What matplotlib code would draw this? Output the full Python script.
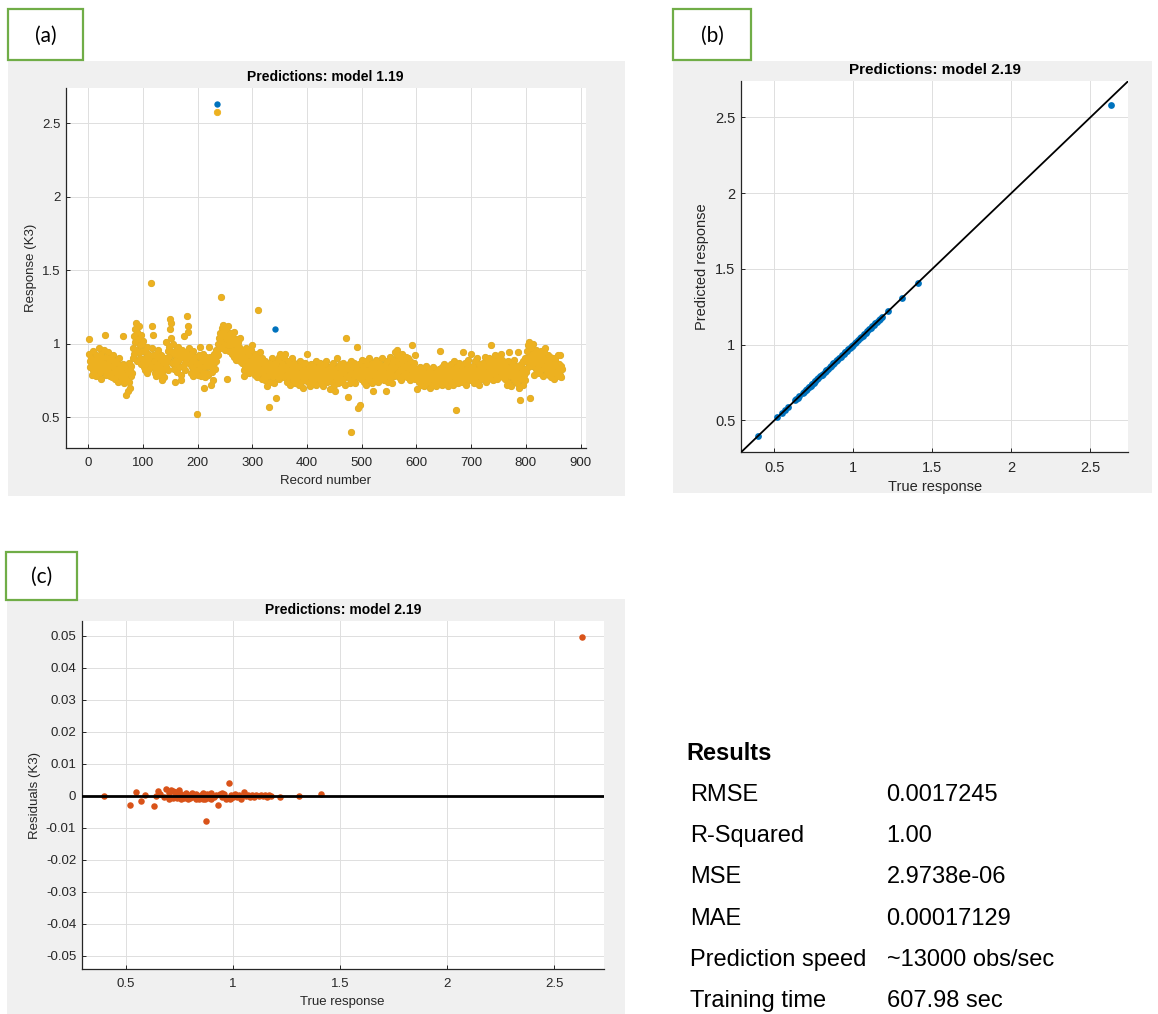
import numpy as np
import matplotlib
matplotlib.use('Agg')
from matplotlib import pyplot as plt
from matplotlib import font_manager
from matplotlib.patches import Rectangle

# ---- panel (a): true response per record (model 1.19 plot) ----
true_k3 = [
    0.93, 1.03, 0.88, 0.84, 0.90, 0.79, 0.86, 0.82, 0.95, 0.87, 0.81, 0.89, 0.84, 0.92, 0.78, 0.86, 0.91, 0.83, 0.97, 0.85,
    0.88, 0.80, 0.93, 0.76, 0.85, 0.90, 0.82, 0.96, 0.87, 1.06, 0.84, 0.79, 0.91, 0.86, 0.81, 0.94, 0.83, 0.88, 0.78, 0.90,
    0.85, 0.80, 0.89, 0.77, 0.84, 0.92, 0.81, 0.86, 0.76, 0.88, 0.83, 0.79, 0.87, 0.82, 0.74, 0.90, 0.80, 0.85, 0.77, 0.83,
    0.81, 0.76, 0.86, 1.05, 0.79, 0.73, 0.84, 0.77, 0.65, 0.82, 0.75, 0.68, 0.80, 0.87, 0.74, 0.83, 0.70, 0.78, 0.85, 0.80,
    0.90, 0.97, 1.05, 0.93, 1.10, 1.01, 1.14, 0.96, 1.08, 0.88, 1.03, 0.94, 1.12, 0.99, 0.90, 1.06, 0.86, 1.00, 0.95, 1.02,
    0.89, 0.84, 0.95, 0.82, 0.91, 0.86, 0.98, 0.80, 0.88, 0.93, 0.83, 0.90, 0.86, 1.41, 0.85, 0.97, 1.12, 1.06, 0.92, 0.84,
    0.88, 0.80, 0.93, 0.78, 0.86, 0.91, 0.82, 0.96, 0.84, 0.79, 0.89, 0.85, 0.92, 0.81, 0.75, 0.87, 0.83, 0.90, 0.77, 0.86,
    0.90, 0.84, 1.01, 0.88, 0.95, 0.82, 0.98, 0.91, 1.17, 1.10, 1.04, 1.14, 0.94, 0.87, 1.00, 0.83, 0.93, 0.74, 0.89, 0.96,
    0.86, 0.92, 0.81, 0.98, 0.88, 0.84, 0.95, 0.90, 0.79, 0.75, 0.93, 0.96, 0.85, 0.91, 1.05, 0.87, 0.82, 0.94, 0.89, 0.92,
    1.19, 1.08, 1.12, 0.97, 0.91, 0.86, 0.93, 0.80, 0.89, 0.84, 0.95, 0.78, 0.88, 0.83, 0.91, 0.80, 0.86, 0.52, 0.82, 0.79,
    0.87, 0.92, 0.83, 0.98, 0.85, 0.90, 0.78, 0.88, 0.81, 0.93, 0.70, 0.84, 0.89, 0.77, 0.86, 0.91, 0.80, 0.85, 0.79, 0.88,
    0.98, 0.86, 0.91, 0.72, 0.84, 0.89, 0.81, 0.75, 0.87, 0.93, 0.83, 0.90, 0.96, 0.88, 2.63, 0.94, 1.00, 0.92, 1.04, 0.97,
    1.07, 1.32, 1.02, 1.11, 0.98, 1.05, 1.13, 1.00, 1.08, 0.96, 1.03, 1.10, 0.76, 1.06, 0.99, 1.12, 1.01, 0.95, 1.07, 1.04,
    0.99, 1.05, 0.93, 1.02, 0.96, 1.08, 0.91, 1.00, 0.94, 1.03, 0.89, 0.97, 1.01, 0.92, 0.98, 0.95, 1.04, 0.88, 0.96, 0.90,
    0.93, 0.87, 0.95, 0.82, 0.78, 0.91, 0.85, 0.97, 0.89, 0.83, 0.94, 0.86, 0.80, 0.92, 0.88, 0.84, 0.96, 0.81, 0.99, 0.87,
    0.90, 0.84, 0.88, 0.79, 0.93, 0.86, 0.82, 0.91, 0.77, 1.23, 0.85, 0.89, 0.80, 0.94, 0.83, 0.87, 0.76, 0.90, 0.81, 0.86,
    0.84, 0.79, 0.88, 0.75, 0.82, 0.71, 0.86, 0.78, 0.83, 0.57, 0.80, 0.87, 0.74, 0.85, 0.79, 0.90, 0.77, 0.82, 0.73, 0.84,
    1.10, 0.81, 0.63, 0.86, 0.78, 0.89, 0.83, 0.76, 0.91, 0.93, 0.80, 0.85, 0.92, 0.79, 0.87, 0.82, 0.77, 0.90, 0.84, 0.93,
    0.79, 0.85, 0.74, 0.82, 0.88, 0.77, 0.81, 0.86, 0.72, 0.83, 0.78, 0.90, 0.80, 0.75, 0.84, 0.79, 0.87, 0.73, 0.82, 0.78,
    0.81, 0.76, 0.85, 0.79, 0.72, 0.84, 0.80, 0.88, 0.74, 0.82, 0.77, 0.86, 0.70, 0.83, 0.79, 0.75, 0.87, 0.81, 0.78, 0.93,
    0.80, 0.74, 0.84, 0.78, 0.71, 0.82, 0.86, 0.76, 0.80, 0.73, 0.85, 0.79, 0.75, 0.83, 0.77, 0.88, 0.72, 0.81, 0.78, 0.84,
    0.76, 0.82, 0.79, 0.87, 0.73, 0.80, 0.84, 0.77, 0.71, 0.83, 0.78, 0.86, 0.75, 0.81, 0.88, 0.74, 0.79, 0.83, 0.76, 0.80,
    0.82, 0.69, 0.85, 0.77, 0.80, 0.74, 0.87, 0.79, 0.72, 0.83, 0.68, 0.81, 0.76, 0.90, 0.78, 0.73, 0.84, 0.80, 0.75, 0.86,
    0.79, 0.83, 0.74, 0.81, 0.87, 0.76, 0.80, 0.85, 0.72, 0.82, 0.78, 1.04, 0.84, 0.77, 0.64, 0.86, 0.79, 0.73, 0.82, 0.88,
    0.40, 0.80, 0.75, 0.84, 0.78, 0.87, 0.81, 0.73, 0.85, 0.79, 0.83, 0.98, 0.56, 0.77, 0.86, 0.80, 0.58, 0.82, 0.76, 0.89,
    0.81, 0.77, 0.85, 0.74, 0.83, 0.79, 0.88, 0.72, 0.80, 0.86, 0.76, 0.82, 0.78, 0.90, 0.75, 0.84, 0.80, 0.73, 0.87, 0.68,
    0.83, 0.78, 0.86, 0.75, 0.81, 0.89, 0.77, 0.84, 0.80, 0.74, 0.87, 0.79, 0.82, 0.76, 0.85, 0.80, 0.90, 0.78, 0.83, 0.75,
    0.81, 0.86, 0.77, 0.84, 0.68, 0.80, 0.88, 0.74, 0.82, 0.79, 0.91, 0.76, 0.85, 0.80, 0.87, 0.73, 0.83, 0.89, 0.78, 0.94,
    0.84, 0.88, 0.79, 0.92, 0.96, 0.81, 0.86, 0.77, 0.90, 0.83, 0.75, 0.87, 0.82, 0.93, 0.79, 0.85, 0.89, 0.78, 0.84, 0.91,
    0.80, 0.86, 0.77, 0.84, 0.90, 0.79, 0.83, 0.75, 0.88, 0.82, 0.99, 0.81, 0.85, 0.78, 0.87, 0.80, 0.92, 0.76, 0.83, 0.79,
    0.69, 0.78, 0.82, 0.74, 0.80, 0.76, 0.84, 0.72, 0.79, 0.81, 0.75, 0.83, 0.77, 0.71, 0.80, 0.78, 0.85, 0.73, 0.79, 0.76,
    0.81, 0.74, 0.78, 0.70, 0.83, 0.76, 0.79, 0.72, 0.80, 0.77, 0.84, 0.73, 0.78, 0.75, 0.81, 0.71, 0.79, 0.76, 0.82, 0.74,
    0.78, 0.83, 0.95, 0.75, 0.80, 0.72, 0.84, 0.77, 0.81, 0.74, 0.86, 0.79, 0.73, 0.82, 0.76, 0.80, 0.85, 0.71, 0.78, 0.83,
    0.77, 0.81, 0.74, 0.86, 0.79, 0.72, 0.83, 0.78, 0.88, 0.75, 0.80, 0.55, 0.84, 0.77, 0.82, 0.73, 0.87, 0.79, 0.76, 0.81,
    0.85, 0.78, 0.82, 0.74, 0.94, 0.80, 0.76, 0.87, 0.79, 0.83, 0.72, 0.86, 0.81, 0.77, 0.89, 0.75, 0.82, 0.78, 0.84, 0.93,
    0.80, 0.76, 0.85, 0.79, 0.73, 0.83, 0.88, 0.77, 0.81, 0.90, 0.74, 0.82, 0.78, 0.86, 0.72, 0.80, 0.84, 0.76, 0.83, 0.79,
    0.82, 0.87, 0.77, 0.84, 0.91, 0.79, 0.85, 0.74, 0.81, 0.88, 0.76, 0.83, 0.90, 0.78, 0.86, 0.80, 0.99, 0.84, 0.75, 0.89,
    0.83, 0.87, 0.79, 0.92, 0.85, 0.81, 0.88, 0.76, 0.84, 0.90, 0.82, 0.78, 0.86, 0.93, 0.80, 0.85, 0.89, 0.77, 0.83, 0.87,
    0.81, 0.76, 0.85, 0.79, 0.72, 0.83, 0.88, 0.74, 0.80, 0.94, 0.78, 0.84, 0.71, 0.82, 0.86, 0.77, 0.80, 0.89, 0.75, 0.83,
    0.79, 0.85, 0.73, 0.81, 0.94, 0.77, 0.84, 0.70, 0.80, 0.62, 0.86, 0.76, 0.82, 0.72, 0.88, 0.79, 0.83, 0.75, 0.90, 0.81,
    0.88, 0.95, 0.84, 0.99, 1.01, 0.91, 0.86, 0.63, 0.97, 0.89, 0.93, 0.85, 1.00, 0.90, 0.79, 0.94, 0.87, 0.96, 0.83, 0.92,
    0.89, 0.84, 0.93, 0.80, 0.91, 0.86, 0.95, 0.82, 0.88, 0.92, 0.78, 0.90, 0.85, 0.94, 0.97, 0.83, 0.89, 0.81, 0.87, 0.92,
    0.84, 0.79, 0.88, 0.82, 0.91, 0.77, 0.86, 0.83, 0.90, 0.80, 0.85, 0.76, 0.89, 0.81, 0.87, 0.78, 0.84, 0.92, 0.80, 0.86,
    0.82, 0.92, 0.79, 0.85, 0.77, 0.83,
]
# records where model 1.19 prediction differs visibly from the true value
pred_changed = {235: 2.58, 341: 0.87}

# ---- panels (b) and (c): model 2.19, true response vs residual ----
true_resp = [0.40, 0.52, 0.55, 0.57, 0.59, 0.63, 0.64, 0.65, 0.66, 0.68, 0.69, 0.70, 0.71, 0.72,
             0.73, 0.74, 0.75, 0.76, 0.77, 0.78, 0.79, 0.80, 0.81, 0.82, 0.83, 0.84, 0.85, 0.86,
             0.87, 0.88, 0.89, 0.90, 0.91, 0.92, 0.93, 0.94, 0.95, 0.96, 0.97, 0.98, 0.99, 1.00,
             1.01, 1.02, 1.03, 1.04, 1.05, 1.06, 1.07, 1.08, 1.09, 1.10, 1.11, 1.12, 1.13, 1.14,
             1.15, 1.16, 1.17, 1.18, 1.22, 1.31, 1.41, 2.63,
             0.70, 0.72, 0.74, 0.76, 0.80, 0.83, 0.86, 0.873, 0.90, 0.95, 0.99, 0.985]
resid_k3 = [-0.0002, -0.0028, 0.0012, -0.0016, 0.0003, -0.0032, 0.0, 0.0014, 0.0005, -0.0004, 0.0020, 0.0008, 0.0018, -0.0006,
            0.0010, -0.0008, 0.0018, 0.0004, -0.0007, 0.0009, -0.0010, 0.0003, 0.0008, -0.0005, 0.0006, -0.0009, 0.0002, 0.0007,
            -0.0012, 0.0004, -0.0006, 0.0008, -0.0003, 0.0002, -0.0028, 0.0005, -0.0004, 0.0006, -0.0010, 0.0039, 0.0003, -0.0005,
            0.0004, -0.0003, 0.0002, -0.0010, 0.0010, -0.0002, 0.0003, -0.0004, 0.0002, -0.0003, 0.0001, -0.0002, 0.0003, -0.0001,
            0.0002, -0.0003, 0.0001, -0.0002, -0.0004, 0.0, 0.0004, 0.0496,
            -0.0010, 0.0015, 0.0012, -0.0012, -0.0008, -0.0011, -0.0010, -0.0078, -0.0009, 0.0007, -0.0008, -0.0012]

resp_ticks = [0.5, 1, 1.5, 2, 2.5]
resp_labels = ['0.5', '1', '1.5', '2', '2.5']
record_ticks = [0, 100, 200, 300, 400, 500, 600, 700, 800, 900]
resid_ticks = [-0.05, -0.04, -0.03, -0.02, -0.01, 0, 0.01, 0.02, 0.03, 0.04, 0.05]
resid_labels = ['-0.05', '-0.04', '-0.03', '-0.02', '-0.01', '0', '0.01', '0.02', '0.03', '0.04', '0.05']

results_names = ['RMSE', 'R-Squared', 'MSE', 'MAE', 'Prediction speed', 'Training time']
results_values = ['0.0017245', '1.00', '2.9738e-06', '0.00017129', '~13000 obs/sec', '607.98 sec']

BLUE = '#0072BD'
YELLOW = '#EDB120'
RED = '#D95319'
GREEN = '#70AD47'
PANEL_BG = '#F0F0F0'
INK = '#262626'

W, H = 1158, 1014
plt.rcParams['font.family'] = ['Liberation Sans', 'DejaVu Sans']


def px_rect(l, t, r, b):
    return [l / W, 1 - b / H, (r - l) / W, (b - t) / H]


def style_axes(ax, size):
    ax.set_facecolor('white')
    for side in ('top', 'right'):
        ax.spines[side].set_visible(False)
    for side in ('left', 'bottom'):
        ax.spines[side].set_color(INK)
        ax.spines[side].set_linewidth(0.9)
    ax.tick_params(direction='in', length=3, width=0.7, colors=INK, labelsize=size)
    ax.tick_params(axis='x', pad=6.5)
    ax.tick_params(axis='y', pad=4)
    ax.grid(True, color='#DEDEDE', linewidth=0.7)
    ax.set_axisbelow(True)


fig = plt.figure(figsize=(W / 100, H / 100), dpi=100)

# grey panel backgrounds (MATLAB figure colour) and green label boxes
for l, t, r, b in [(8, 61, 625, 496), (673, 61, 1152, 493), (7, 599, 625, 1014)]:
    fig.patches.append(Rectangle((l / W, 1 - b / H), (r - l) / W, (b - t) / H,
                                 transform=fig.transFigure, facecolor=PANEL_BG,
                                 edgecolor='none', zorder=-1))
for (l, t, r, b), tag in [((8, 9, 83, 60), '(a)'), ((673, 9, 751, 60), '(b)'),
                          ((6, 552, 77, 600), '(c)')]:
    fig.patches.append(Rectangle((l / W, 1 - b / H), (r - l) / W, (b - t) / H,
                                 transform=fig.transFigure, facecolor='white',
                                 edgecolor=GREEN, linewidth=1.6, zorder=1))
    fig.text((l + r) / 2 / W, 1 - ((t + b) / 2 + 1) / H, tag, ha='center', va='center',
             fontsize=15, family=['Lato', 'DejaVu Sans'], color='black')

# (a) response plot
ax_a = fig.add_axes(px_rect(65.8, 88, 585.5, 448))
style_axes(ax_a, 9.5)
records = np.arange(1, len(true_k3) + 1)
pred_k3 = np.array(true_k3, dtype=float)
for rec, v in pred_changed.items():
    pred_k3[rec - 1] = v
ax_a.scatter(records, true_k3, s=21, color=BLUE, linewidths=0, zorder=2)
# thin edge in the same colour hides the blue rim where true == predicted
ax_a.scatter(records, pred_k3, s=21, facecolor=YELLOW, edgecolor=YELLOW,
             linewidths=0.6, zorder=3)
ax_a.set_xlim(-41, 909)
ax_a.set_ylim(0.29, 2.74)
ax_a.set_xticks(record_ticks)
ax_a.set_yticks(resp_ticks)
ax_a.set_yticklabels(resp_labels)
ax_a.set_title('Predictions: model 1.19', fontsize=10, fontweight='bold', color='black', pad=5)
ax_a.set_xlabel('Record number', fontsize=9.5, color=INK)
ax_a.set_ylabel('Response (K3)', fontsize=9.5, color=INK)
ax_a.xaxis.set_label_coords(0.5, (448 - 481) / 360)
ax_a.yaxis.set_label_coords((30.6 - 65.8) / 519.7, 0.5)
ax_a.xaxis.label.set_va('center')
ax_a.yaxis.label.set_va('center')

# (b) predicted vs true
ax_b = fig.add_axes(px_rect(741, 81, 1128.3, 452.3))
style_axes(ax_b, 10.5)
pred_resp = np.array(true_resp) - np.array(resid_k3)
ax_b.scatter(true_resp, pred_resp, s=24, color=BLUE, linewidths=0, zorder=2)
ax_b.axline((1, 1), slope=1, color='black', linewidth=1.3, zorder=3)
ax_b.set_xlim(0.29, 2.74)
ax_b.set_ylim(0.29, 2.74)
ax_b.set_xticks(resp_ticks)
ax_b.set_xticklabels(resp_labels)
ax_b.set_yticks(resp_ticks)
ax_b.set_yticklabels(resp_labels)
ax_b.set_title('Predictions: model 2.19', fontsize=11, fontweight='bold', color='black', pad=5)
ax_b.set_xlabel('True response', fontsize=10.5, color=INK)
ax_b.set_ylabel('Predicted response', fontsize=10.5, color=INK)
ax_b.xaxis.set_label_coords(0.5, (452.3 - 487) / 371.3)
ax_b.yaxis.set_label_coords((701.7 - 741) / 387.3, 0.5)
ax_b.xaxis.label.set_va('center')
ax_b.yaxis.label.set_va('center')

# (c) residuals
ax_c = fig.add_axes(px_rect(81.8, 621, 603.6, 969.3))
style_axes(ax_c, 9.5)
ax_c.scatter(true_resp, resid_k3, s=22, color=RED, linewidths=0, zorder=2)
ax_c.axhline(0, color='black', linewidth=2, zorder=3)
ax_c.set_xlim(0.295, 2.731)
ax_c.set_ylim(-0.0543, 0.0546)
ax_c.set_xticks(resp_ticks)
ax_c.set_xticklabels(resp_labels)
ax_c.set_yticks(resid_ticks)
ax_c.set_yticklabels(resid_labels)
ax_c.set_title('Predictions: model 2.19', fontsize=10, fontweight='bold', color='black', pad=5)
ax_c.set_xlabel('True response', fontsize=9.5, color=INK)
ax_c.set_ylabel('Residuals (K3)', fontsize=9.5, color=INK)
ax_c.xaxis.set_label_coords(0.5, (969.3 - 1002) / 348.3)
ax_c.yaxis.set_label_coords((34.8 - 81.8) / 521.8, 0.5)
ax_c.xaxis.label.set_va('center')
ax_c.yaxis.label.set_va('center')

# results table
try:
    font_manager.findfont(font_manager.FontProperties(family='Liberation Sans Narrow'),
                          fallback_to_default=False)
    res_family, res_size = ['Liberation Sans Narrow', 'DejaVu Sans'], 19.5
except ValueError:
    res_family, res_size = ['Liberation Sans', 'DejaVu Sans'], 17

fig.text(686.5 / W, 1 - 753 / H, 'Results', ha='left', va='center', fontsize=res_size,
         fontweight='bold', family=res_family, color='black')
for i, (name, value) in enumerate(zip(results_names, results_values)):
    y = 795 + i * 41.2
    fig.text(690 / W, 1 - y / H, name, ha='left', va='center', fontsize=res_size,
             family=res_family, color='black')
    fig.text(886.5 / W, 1 - y / H, value, ha='left', va='center', fontsize=res_size,
             family=res_family, color='black')

fig.savefig('out.png', dpi=100, facecolor='white')
